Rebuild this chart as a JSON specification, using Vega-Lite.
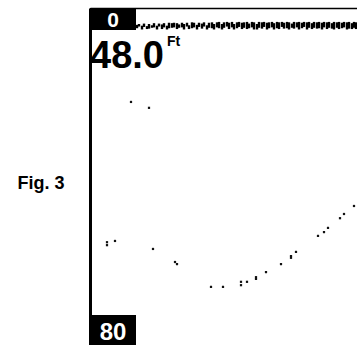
{
  "$schema": "https://vega.github.io/schema/vega-lite/v6.json",
  "autosize": {"type": "none"},
  "width": 267,
  "height": 337,
  "padding": {"left": 90, "top": 8, "right": 0, "bottom": 0},
  "background": "white",
  "config": {"view": {"stroke": null}},
  "datasets": {
    "echo": [
      {"ping": 41, "depth": 22.3}, {"ping": 59, "depth": 23.7},
      {"ping": 17, "depth": 55.6}, {"ping": 17, "depth": 56.3}, {"ping": 25, "depth": 55.3},
      {"ping": 63, "depth": 57.2}, {"ping": 85, "depth": 60.3}, {"ping": 87, "depth": 60.8},
      {"ping": 121, "depth": 66.2}, {"ping": 133, "depth": 66.2},
      {"ping": 151, "depth": 65.0}, {"ping": 151, "depth": 65.8}, {"ping": 157, "depth": 65.0},
      {"ping": 166, "depth": 63.9}, {"ping": 166, "depth": 64.3}, {"ping": 176, "depth": 62.7},
      {"ping": 191, "depth": 60.8}, {"ping": 201, "depth": 58.9}, {"ping": 201, "depth": 59.3},
      {"ping": 206, "depth": 57.9}, {"ping": 228, "depth": 54.1}, {"ping": 234, "depth": 53.2},
      {"ping": 238, "depth": 52.2}, {"ping": 250, "depth": 49.9}, {"ping": 254, "depth": 48.9},
      {"ping": 264, "depth": 47.0}
    ],
    "clutter": [
      {"ping": 47, "top": 4.0, "bottom": 4.8}, {"ping": 49, "top": 3.8, "bottom": 4.4},
      {"ping": 52, "top": 4.2, "bottom": 5.1}, {"ping": 54, "top": 3.7, "bottom": 4.5},
      {"ping": 57, "top": 4.3, "bottom": 5.0}, {"ping": 59, "top": 3.8, "bottom": 4.9},
      {"ping": 62, "top": 4.1, "bottom": 4.7}, {"ping": 64, "top": 3.6, "bottom": 4.6},
      {"ping": 67, "top": 4.2, "bottom": 5.1}, {"ping": 69, "top": 3.7, "bottom": 4.4},
      {"ping": 72, "top": 3.9, "bottom": 5.0}, {"ping": 74, "top": 3.6, "bottom": 4.6},
      {"ping": 77, "top": 4.2, "bottom": 5.1}, {"ping": 79, "top": 3.5, "bottom": 4.8},
      {"ping": 82, "top": 3.6, "bottom": 4.7}, {"ping": 84, "top": 3.5, "bottom": 4.6},
      {"ping": 87, "top": 3.6, "bottom": 5.0}, {"ping": 89, "top": 3.9, "bottom": 4.7},
      {"ping": 92, "top": 3.5, "bottom": 4.6}, {"ping": 94, "top": 3.8, "bottom": 5.1},
      {"ping": 97, "top": 3.5, "bottom": 4.4}, {"ping": 99, "top": 4.1, "bottom": 5.0},
      {"ping": 102, "top": 3.4, "bottom": 4.8}, {"ping": 104, "top": 3.5, "bottom": 4.6},
      {"ping": 107, "top": 4.0, "bottom": 5.1}, {"ping": 109, "top": 3.5, "bottom": 4.5},
      {"ping": 112, "top": 3.7, "bottom": 4.9}, {"ping": 114, "top": 3.4, "bottom": 4.4},
      {"ping": 117, "top": 4.1, "bottom": 5.1}, {"ping": 119, "top": 3.5, "bottom": 4.7},
      {"ping": 122, "top": 3.4, "bottom": 4.8}, {"ping": 124, "top": 3.8, "bottom": 5.1},
      {"ping": 127, "top": 3.4, "bottom": 4.6}, {"ping": 129, "top": 3.3, "bottom": 4.8},
      {"ping": 132, "top": 3.8, "bottom": 5.1}, {"ping": 134, "top": 3.4, "bottom": 4.7},
      {"ping": 137, "top": 3.3, "bottom": 4.4}, {"ping": 139, "top": 3.5, "bottom": 5.0},
      {"ping": 142, "top": 3.3, "bottom": 4.6}, {"ping": 144, "top": 3.8, "bottom": 5.1},
      {"ping": 147, "top": 3.4, "bottom": 4.8}, {"ping": 149, "top": 3.3, "bottom": 4.5},
      {"ping": 152, "top": 3.5, "bottom": 5.0}, {"ping": 154, "top": 3.4, "bottom": 4.7},
      {"ping": 157, "top": 3.3, "bottom": 5.0}, {"ping": 159, "top": 3.7, "bottom": 4.8},
      {"ping": 162, "top": 3.3, "bottom": 4.6}, {"ping": 164, "top": 3.4, "bottom": 5.1},
      {"ping": 167, "top": 3.8, "bottom": 5.1}, {"ping": 169, "top": 3.3, "bottom": 4.7},
      {"ping": 172, "top": 3.4, "bottom": 4.9}, {"ping": 174, "top": 3.3, "bottom": 4.5},
      {"ping": 177, "top": 3.5, "bottom": 5.1}, {"ping": 179, "top": 3.4, "bottom": 4.8},
      {"ping": 182, "top": 3.3, "bottom": 4.6}, {"ping": 184, "top": 3.6, "bottom": 5.1},
      {"ping": 187, "top": 3.3, "bottom": 4.8}, {"ping": 189, "top": 3.4, "bottom": 5.0},
      {"ping": 192, "top": 3.3, "bottom": 4.5}, {"ping": 194, "top": 3.5, "bottom": 4.9},
      {"ping": 197, "top": 3.3, "bottom": 4.8}, {"ping": 199, "top": 3.4, "bottom": 5.1},
      {"ping": 202, "top": 3.7, "bottom": 4.7}, {"ping": 204, "top": 3.3, "bottom": 4.9},
      {"ping": 207, "top": 3.4, "bottom": 4.6}, {"ping": 209, "top": 3.3, "bottom": 5.1},
      {"ping": 212, "top": 3.5, "bottom": 4.8}, {"ping": 214, "top": 3.3, "bottom": 4.5},
      {"ping": 217, "top": 3.4, "bottom": 5.1}, {"ping": 219, "top": 3.3, "bottom": 4.7},
      {"ping": 222, "top": 3.6, "bottom": 5.0}, {"ping": 224, "top": 3.3, "bottom": 4.7},
      {"ping": 227, "top": 3.4, "bottom": 4.9}, {"ping": 229, "top": 3.3, "bottom": 4.8},
      {"ping": 232, "top": 3.5, "bottom": 5.1}, {"ping": 234, "top": 3.3, "bottom": 4.6},
      {"ping": 237, "top": 3.4, "bottom": 5.0}, {"ping": 239, "top": 3.3, "bottom": 4.7},
      {"ping": 242, "top": 3.6, "bottom": 4.9}, {"ping": 244, "top": 3.3, "bottom": 5.1},
      {"ping": 247, "top": 3.4, "bottom": 4.7}, {"ping": 249, "top": 3.3, "bottom": 5.0},
      {"ping": 252, "top": 3.5, "bottom": 4.8}, {"ping": 254, "top": 3.3, "bottom": 4.6},
      {"ping": 257, "top": 3.4, "bottom": 5.1}, {"ping": 259, "top": 3.3, "bottom": 4.9},
      {"ping": 262, "top": 3.6, "bottom": 5.0}, {"ping": 264, "top": 3.3, "bottom": 4.7},
      {"ping": 266, "top": 3.4, "bottom": 5.0}
    ]
  },
  "layer": [
    {
      "data": {"name": "clutter"},
      "mark": {"type": "rule", "strokeWidth": 2.4, "color": "#000000"},
      "encoding": {
        "x": {"field": "ping", "type": "quantitative", "scale": {"domain": [0, 267], "nice": false, "zero": false},
              "axis": {"orient": "top", "domain": true, "domainColor": "black", "domainWidth": 1.5, "ticks": false, "labels": false, "grid": false, "title": null}},
        "y": {"field": "top", "type": "quantitative", "scale": {"domain": [0, 80], "reverse": true, "nice": false, "zero": false},
              "axis": {"orient": "left", "domain": true, "domainColor": "black", "domainWidth": 3, "ticks": false, "labels": false, "grid": false,
                       "title": "Fig. 3", "titleAngle": 0, "titleX": -73, "titleY": 180, "titleAlign": "left", "titleBaseline": "alphabetic",
                       "titleFont": "Liberation Sans", "titleFontSize": 18, "titleFontWeight": "bold", "titleColor": "black"}},
        "y2": {"field": "bottom"}
      }
    },
    {
      "data": {"name": "echo"},
      "mark": {"type": "point", "shape": "square", "filled": true, "size": 5, "color": "#111111", "opacity": 1},
      "encoding": {
        "x": {"field": "ping", "type": "quantitative"},
        "y": {"field": "depth", "type": "quantitative"}
      }
    },
    {
      "data": {"values": [{}]},
      "mark": {"type": "rect", "color": "black"},
      "encoding": {
        "x": {"datum": 0}, "x2": {"datum": 46},
        "y": {"datum": 0}, "y2": {"datum": 5.2}
      }
    },
    {
      "data": {"values": [{}]},
      "mark": {"type": "rect", "color": "black"},
      "encoding": {
        "x": {"datum": 1}, "x2": {"datum": 46},
        "y": {"datum": 72.9}, "y2": {"datum": 80}
      }
    },
    {
      "data": {"values": [{}]},
      "mark": {"type": "text", "text": "0", "color": "white", "font": "Liberation Sans", "fontSize": 21, "fontWeight": "bold", "align": "center", "baseline": "alphabetic"},
      "encoding": {"x": {"datum": 23}, "y": {"datum": 4.6}}
    },
    {
      "data": {"values": [{}]},
      "mark": {"type": "text", "text": "80", "color": "white", "font": "Liberation Sans", "fontSize": 24, "fontWeight": "bold", "align": "center", "baseline": "alphabetic"},
      "encoding": {"x": {"datum": 23}, "y": {"datum": 78.8}}
    },
    {
      "data": {"values": [{}]},
      "mark": {"type": "text", "text": "48.0", "color": "black", "font": "Liberation Sans", "fontSize": 38, "fontWeight": "bold", "align": "left", "baseline": "alphabetic"},
      "encoding": {"x": {"datum": 0}, "y": {"datum": 14.2}}
    },
    {
      "data": {"values": [{}]},
      "mark": {"type": "text", "text": "Ft", "color": "black", "font": "Liberation Sans", "fontSize": 14, "fontWeight": "bold", "align": "left", "baseline": "alphabetic"},
      "encoding": {"x": {"datum": 77}, "y": {"datum": 9.0}}
    }
  ]
}
